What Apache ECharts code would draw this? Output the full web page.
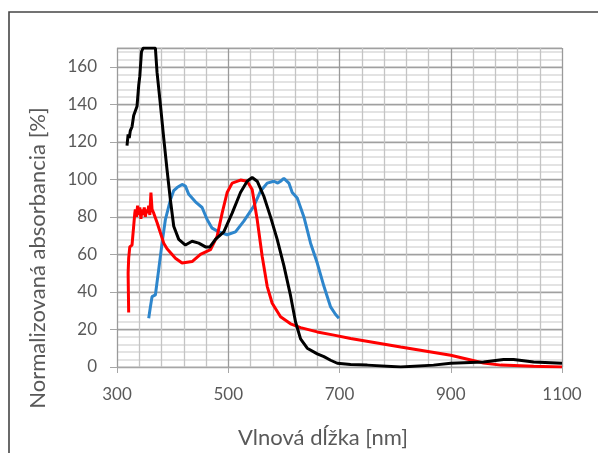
<!DOCTYPE html>
<html>
<head>
<meta charset="utf-8">
<script src="https://cdn.jsdelivr.net/npm/echarts@6/dist/echarts.min.js"></script>
<style>
	html, body { margin: 0; padding: 0; background: #fff; }
	#myChart { width: 598px; height: 453px; }
</style>
</head>
<body>
<div id="myChart"></div>
<script>
	// modrá krivka
	var blueWl = [357, 360, 363, 366, 369, 375, 381, 387, 396, 402, 408, 417, 423, 429, 441, 453, 462, 471, 483, 498, 513, 528, 546, 558, 570, 582, 589, 594, 600, 609, 615, 624, 636, 648, 660, 672, 684, 693, 699];
	var blueAbs = [26, 32, 37.5, 38, 38.4, 52, 66, 78.6, 89, 94, 95.6, 97.3, 96.4, 92, 88, 85, 78.6, 74, 72, 70.5, 72, 77.7, 85.7, 93.7, 98, 99, 98, 99, 100.5, 98, 93, 90, 80, 66, 55.4, 43, 32, 28, 26];

	// červená krivka
	var redWl = [321, 320, 321, 323, 327, 330, 332, 333, 335, 337, 339, 341, 343, 345, 347, 349, 351, 353, 355, 357, 359, 361, 363, 366, 372, 378, 384, 390, 405, 417, 435, 450, 468, 480, 489, 498, 507, 522, 534, 543, 552, 561, 570, 579, 594, 612, 630, 660, 690, 720, 810, 900, 959, 990, 1049, 1100];
	var redAbs = [29, 50, 58, 64, 65, 66, 82, 84, 80, 86, 81, 85, 79, 84, 81, 85, 80, 84, 82, 86, 81, 93, 84, 82, 77, 71.5, 66, 63, 58, 55.4, 56.2, 60, 62.5, 69.6, 82, 93, 98, 99.6, 99, 94.6, 78.6, 59, 43, 34, 26.8, 23, 21, 18.7, 17, 15.2, 10.7, 6.3, 2.1, 1, 0.4, 0];

	// čierna krivka
	var blackWl = [318, 320, 322, 324, 327, 330, 333, 336, 339, 341, 344, 347, 369, 372, 378, 384, 390, 396, 402, 411, 423, 435, 447, 459, 467, 477, 492, 507, 522, 534, 543, 552, 564, 576, 588, 600, 612, 621, 630, 642, 660, 672, 684, 696, 720, 750, 810, 869, 900, 959, 995, 1013, 1049, 1100];
	var blackAbs = [118, 124, 122, 126, 128, 134, 133, 139, 150, 155, 168, 170, 170, 157, 140, 122, 105, 89, 75, 68, 65, 67, 66, 64, 64, 68, 72, 82, 93, 99, 101, 99, 91, 80, 68, 54, 38, 24, 15, 10, 7, 5.5, 3.6, 2, 1.3, 1, 0, 1, 2, 2.7, 4, 4, 2.7, 2];

	var xTicks = [300, 500, 700, 900, 1100];
	var yTicks = [0, 20, 40, 60, 80, 100, 120, 140, 160];

	function pairs(xs, ys) {
		var out = [];
		for (var i = 0; i < xs.length; i++) out.push([xs[i], ys[i]]);
		return out;
	}

	var font = 'Lato';
	var myChart = echarts.init(document.getElementById('myChart'));

	var option = {
		animation: false,
		backgroundColor: '#fff',
		grid: { left: 117, right: 36, top: 48, bottom: 86 },
		xAxis: [{
			type: 'value',
			min: 300,
			max: 1100,
			interval: 200,
			axisLine: { show: true, lineStyle: { color: '#a6a6a6', width: 1 } },
			axisTick: { show: true, length: 6, lineStyle: { color: '#a6a6a6' } },
			axisLabel: {
				color: '#595959', fontFamily: font, fontSize: 17, margin: 19,
				formatter: function (v) { return xTicks.indexOf(v) >= 0 ? String(v) : ''; }
			},
			splitLine: { show: true, lineStyle: { color: '#9a9a9a', width: 1.3 } },
			minorTick: { show: false, splitNumber: 5 },
			minorSplitLine: { show: true, lineStyle: { color: '#c4c4c4', width: 1.3 } }
		}],
		yAxis: [{
			type: 'value',
			min: 0,
			max: 170,
			interval: 20,
			axisLine: { show: false },
			axisTick: { show: true, length: 7, lineStyle: { color: '#a6a6a6' } },
			axisLabel: {
				color: '#595959', fontFamily: font, fontSize: 17, margin: 20,
				showMaxLabel: false,
				formatter: function (v) { return yTicks.indexOf(v) >= 0 ? String(v) : ''; }
			},
			splitLine: { show: true, lineStyle: { color: '#a0a0a0', width: 1.3 } }
		}, {
			type: 'value',
			min: 0,
			max: 170,
			interval: 4,
			position: 'left',
			axisLine: { show: false },
			axisTick: { show: false },
			axisLabel: { show: false },
			splitLine: { show: true, lineStyle: { color: '#dadada', width: 1.6 } },
			z: -1
		}],
		graphic: [{
			type: 'rect',
			shape: { x: 9, y: 12, width: 640, height: 500 },
			style: { fill: null, stroke: '#454545', lineWidth: 1.6 },
			silent: true
		}, {
			type: 'text',
			x: 38,
			y: 258,
			rotation: Math.PI / 2,
			style: {
				text: 'Normalizovaná absorbancia [%]',
				fill: '#595959',
				font: '22px Lato',
				textAlign: 'center',
				textVerticalAlign: 'middle'
			}
		}, {
			type: 'text',
			x: 323,
			y: 438,
			style: {
				text: 'Vlnová dĺžka [nm]',
				fill: '#595959',
				font: '22px Lato',
				textAlign: 'center',
				textVerticalAlign: 'middle'
			}
		}],
		series: [{
			name: 'modrá',
			type: 'line',
			showSymbol: false,
			data: pairs(blueWl, blueAbs),
			lineStyle: { color: '#2e86cc', width: 3 },
			z: 3
		}, {
			name: 'červená',
			type: 'line',
			showSymbol: false,
			data: pairs(redWl, redAbs),
			lineStyle: { color: '#ff0000', width: 3 },
			z: 4
		}, {
			name: 'čierna',
			type: 'line',
			showSymbol: false,
			data: pairs(blackWl, blackAbs),
			lineStyle: { color: '#000000', width: 3 },
			z: 5
		}]
	};

	myChart.setOption(option);
</script>
</body>
</html>
